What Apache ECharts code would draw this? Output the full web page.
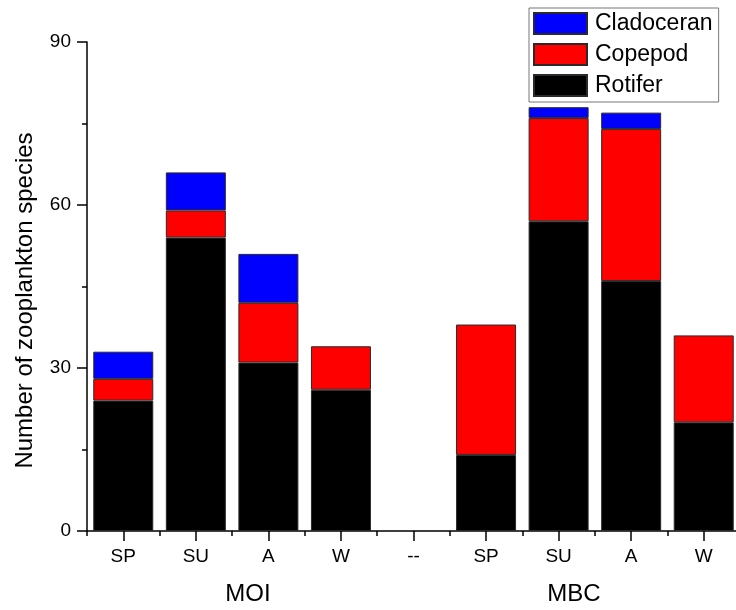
<!DOCTYPE html>
<html>
<head>
<meta charset="utf-8">
<script src="https://cdn.jsdelivr.net/npm/echarts@6/dist/echarts.min.js"></script>
<style>html,body{margin:0;padding:0;background:#fff;}#c{width:736px;height:610px;}</style>
</head>
<body>
<div id="c"></div>
<script>
const categories = ['MOI-SP','MOI-SU','MOI-A','MOI-W','gap','MBC-SP','MBC-SU','MBC-A','MBC-W'];
const tickLabels = ['SP','SU','A','W','--','SP','SU','A','W'];
const groupLabels = ['MOI','MBC'];
const rotifer    = [24, 54, 31, 26, null, 14, 57, 46, 20];
const copepod    = [4, 5, 11, 8, null, 24, 19, 28, 16];
const cladoceran = [5, 7, 9, null, null, null, 2, 3, null];
const yTicks = {min: 0, max: 90, interval: 30};

const FONT = '"Liberation Sans", Arial, sans-serif';
const chart = echarts.init(document.getElementById('c'), null, {renderer: 'canvas'});
const border = {borderColor: '#2a2a2a', borderWidth: 1};
function bar(name, data, color) {
  return {
    name: name, type: 'bar', stack: 'total', data: data, barWidth: 60,
    itemStyle: Object.assign({color: color}, border)
  };
}
chart.setOption({
  animation: false,
  textStyle: {fontFamily: FONT},
  grid: {left: 87, right: -4, top: 42, bottom: 79, containLabel: false, outerBoundsMode: 'none'},
  legend: {
    orient: 'vertical', left: 529, top: 8,
    data: ['Cladoceran', 'Copepod', 'Rotifer'],
    itemWidth: 53, itemHeight: 21, itemGap: 8,
    padding: [4, 6, 5, 4],
    borderColor: '#777', borderWidth: 1,
    icon: 'rect',
    textStyle: {fontSize: 23, color: '#000', fontFamily: FONT, padding: [0, 0, 0, 3]}
  },
  xAxis: [
    {
      type: 'category', data: categories, position: 'bottom',
      axisLine: {show: true, lineStyle: {color: '#000', width: 1.5}},
      axisTick: {show: true, length: 5, lineStyle: {color: '#000', width: 1.5}},
      axisLabel: {show: false}
    },
    {
      type: 'category', data: categories, position: 'bottom',
      axisLine: {show: false},
      axisTick: {show: true, alignWithLabel: true, length: 10, lineStyle: {color: '#000', width: 1.5}},
      axisLabel: {
        show: true, fontSize: 19, color: '#000', margin: 16, fontFamily: FONT,
        interval: 0,
        formatter: function (v, i) { return tickLabels[i]; }
      }
    }
  ],
  yAxis: {
    type: 'value', min: yTicks.min, max: yTicks.max, interval: yTicks.interval,
    name: 'Number of zooplankton species', nameLocation: 'middle', nameGap: 50,
    nameTextStyle: {fontSize: 24, color: '#000', fontFamily: FONT, padding: [0, 28, 0, 0]},
    axisLine: {show: true, lineStyle: {color: '#000', width: 1.5}},
    axisTick: {show: true, length: 10, lineStyle: {color: '#000', width: 1.5}},
    minorTick: {show: true, splitNumber: 2, length: 5, lineStyle: {color: '#000', width: 1.5}},
    axisLabel: {fontSize: 19, color: '#000', margin: 16, fontFamily: FONT},
    splitLine: {show: false}
  },
  series: [
    bar('Rotifer', rotifer, '#000000'),
    bar('Copepod', copepod, '#ff0000'),
    bar('Cladoceran', cladoceran, '#0000ff')
  ],
  graphic: [
    {type: 'text', x: 248, y: 594, style: {text: groupLabels[0], fill: '#000', font: '24px ' + FONT, textAlign: 'center', textVerticalAlign: 'middle'}},
    {type: 'text', x: 574, y: 594, style: {text: groupLabels[1], fill: '#000', font: '24px ' + FONT, textAlign: 'center', textVerticalAlign: 'middle'}}
  ]
});
</script>
</body>
</html>
